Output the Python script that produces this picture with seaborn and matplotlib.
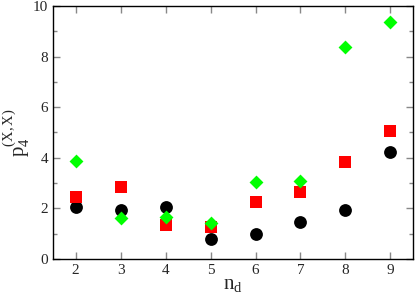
import pandas as pd
import matplotlib.pyplot as plt
from matplotlib.ticker import MultipleLocator
import seaborn as sns

# Data
n_d = [2, 3, 4, 5, 6, 7, 8, 9]
black_vals = [2.07, 1.94, 2.06, 0.78, 0.99, 1.47, 1.94, 4.24]
red_vals = [2.46, 2.83, 1.36, 1.25, 2.26, 2.64, 3.82, 5.06]
green_vals = [3.87, 1.61, 1.67, 1.41, 3.06, 3.08, 8.37, 9.36]
series_names = ['black', 'red', 'green']

df = pd.DataFrame({
    'n_d': n_d * 3,
    'p': black_vals + red_vals + green_vals,
    'series': [s for s in series_names for _ in n_d],
})

sns.set_theme(style="ticks")
plt.rcParams['font.family'] = ['Liberation Serif', 'DejaVu Serif']
plt.rcParams['mathtext.fontset'] = 'custom'
plt.rcParams['mathtext.rm'] = 'Liberation Serif'
plt.rcParams['mathtext.it'] = 'Liberation Serif'

fig, ax = plt.subplots(figsize=(4.15, 2.96), dpi=100)
fig.subplots_adjust(left=0.128, right=0.995, top=0.98, bottom=0.125)

palette = {'black': '#000000', 'red': '#ff0000', 'green': '#00ff00'}
markers = {'black': 'o', 'red': 's', 'green': 'D'}
sizes = {'black': 85, 'red': 65, 'green': 50}
for name in series_names:
    sub = df[df['series'] == name]
    sns.scatterplot(data=sub, x='n_d', y='p', color=palette[name],
                    marker=markers[name], s=sizes[name], linewidth=0,
                    ax=ax, legend=False, zorder=3 if name != 'black' else 2)

ax.set_xlim(1.5, 9.5)
ax.set_ylim(0, 10)
ax.xaxis.set_major_locator(MultipleLocator(1))
ax.yaxis.set_major_locator(MultipleLocator(2))
ax.yaxis.set_minor_locator(MultipleLocator(1))
ax.tick_params(which='both', direction='in', top=True, right=True,
               color='#888888', labelsize=11, width=1)
ax.tick_params(which='major', length=5)
ax.tick_params(which='minor', length=3)
ax.set_xlabel('n$_\\mathrm{d}$', fontsize=15, labelpad=-1)
ax.set_ylabel('p$_\\mathrm{4}^{\\mathrm{(X,X)}}$', fontsize=15, labelpad=1)
for sp in ax.spines.values():
    sp.set_linewidth(1.0)
    sp.set_color('black')

plt.savefig('out.png', dpi=100)
plt.close()
